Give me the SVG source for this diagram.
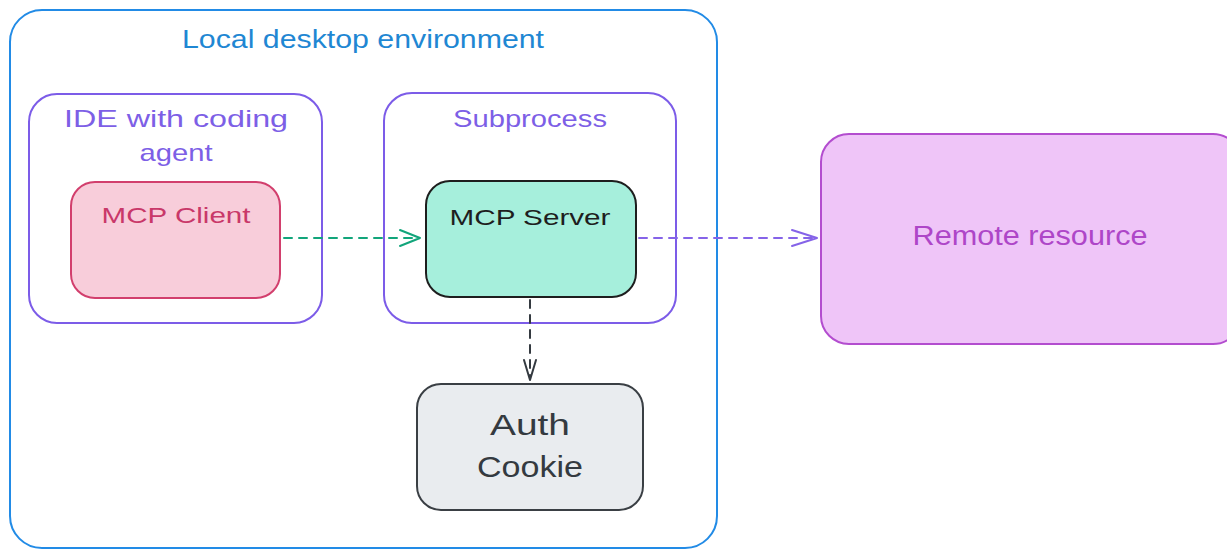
<svg xmlns="http://www.w3.org/2000/svg" width="1227" height="550" viewBox="0 0 1227 550">
  <style>
    text { font-family: "Liberation Sans", "DejaVu Sans", sans-serif; text-anchor: middle; }
    .box { stroke-width: 2; }
    .conn { fill: none; stroke-width: 2; stroke-linecap: round; stroke-linejoin: round; }
    .dash { stroke-dasharray: 8 7; }
  </style>
  <rect width="1227" height="550" fill="#ffffff"/>

  <!-- Local desktop environment container -->
  <g id="local-env">
    <rect class="box" x="10" y="10" width="707" height="538" rx="32" fill="#ffffff" stroke="#228be6"/>
    <text x="363" y="48" font-size="25" fill="#1f87d3" textLength="362" lengthAdjust="spacingAndGlyphs">Local desktop environment</text>
  </g>

  <!-- IDE group -->
  <g id="ide">
    <rect class="box" x="29" y="94" width="293" height="229" rx="28" fill="#ffffff" stroke="#7c5ce8"/>
    <text x="176" y="127" font-size="24" fill="#7d5fe6" textLength="224" lengthAdjust="spacingAndGlyphs">IDE with coding</text>
    <text x="176" y="161" font-size="24" fill="#7d5fe6" textLength="73" lengthAdjust="spacingAndGlyphs">agent</text>
  </g>

  <!-- Subprocess group -->
  <g id="subprocess">
    <rect class="box" x="384" y="93" width="292" height="230" rx="28" fill="#ffffff" stroke="#7c5ce8"/>
    <text x="530" y="127" font-size="24" fill="#7d5fe6" textLength="154" lengthAdjust="spacingAndGlyphs">Subprocess</text>
  </g>

  <!-- MCP Client -->
  <g id="mcp-client">
    <rect class="box" x="71" y="182" width="209" height="116" rx="24" fill="#f8cdda" stroke="#d23f6d"/>
    <text x="176" y="223" font-size="22" fill="#c93869" textLength="149" lengthAdjust="spacingAndGlyphs">MCP Client</text>
  </g>

  <!-- MCP Server -->
  <g id="mcp-server">
    <rect class="box" x="426" y="181" width="210" height="116" rx="24" fill="#a6efdc" stroke="#1e1e1e"/>
    <text x="530" y="225" font-size="22" fill="#1e1e1e" textLength="161" lengthAdjust="spacingAndGlyphs">MCP Server</text>
  </g>

  <!-- Auth Cookie -->
  <g id="auth-cookie">
    <rect class="box" x="417" y="384" width="226" height="126" rx="24" fill="#e9ecef" stroke="#3a3f44"/>
    <text x="530" y="435" font-size="30" fill="#343a40" textLength="80" lengthAdjust="spacingAndGlyphs">Auth</text>
    <text x="530" y="477" font-size="30" fill="#343a40" textLength="106" lengthAdjust="spacingAndGlyphs">Cookie</text>
  </g>

  <!-- Remote resource -->
  <g id="remote-resource">
    <rect class="box" x="821" y="134" width="420" height="210" rx="28" fill="#efc5f8" stroke="#b34dcf"/>
    <text x="1030" y="245" font-size="27" fill="#ae46c8" textLength="235" lengthAdjust="spacingAndGlyphs">Remote resource</text>
  </g>

  <!-- Connectors -->
  <g id="connectors">
    <!-- client to server -->
    <path class="conn dash" d="M 284 238 L 418 238" stroke="#12a57b"/>
    <path class="conn" d="M 400 230 L 420 238 L 400 246" stroke="#12a57b"/>
    <!-- server to remote resource -->
    <path class="conn dash" d="M 639 238 L 815 238" stroke="#8563e8"/>
    <path class="conn" d="M 792 230 L 817 238 L 792 246" stroke="#8563e8"/>
    <!-- server to auth cookie -->
    <path class="conn dash" d="M 530 300 L 530 378" stroke="#343a40"/>
    <path class="conn" d="M 524 360 L 530 380 L 536 360" stroke="#343a40"/>
  </g>
</svg>
